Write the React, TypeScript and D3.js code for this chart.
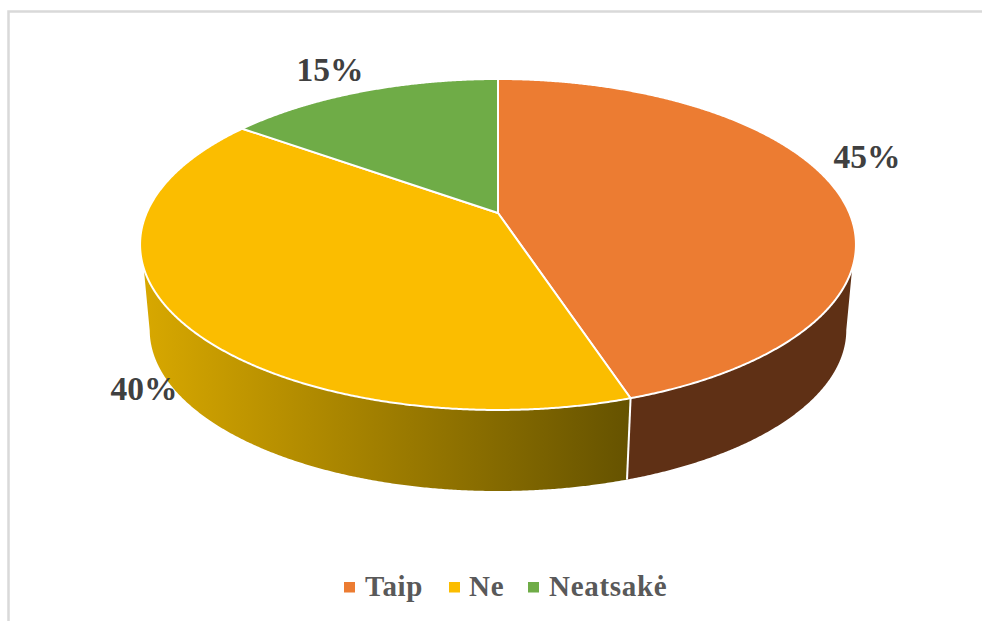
import React from "react";
import * as d3 from "d3";

const categories = ["Taip", "Ne", "Neatsakė"];
const shares = [45, 40, 15];
const labels = ["45%", "40%", "15%"];
const colors = ["#EC7C32", "#FBBD00", "#6FAC47"];

const W = 982;
const H = 621;
// Perspective of the pie disc: apex (498,213), rim top 79, rim bottom 410
const CX = 498;
const APEX_Y = 213;
const PERSP = -0.1903;
const A = 118.96;
const S = 351.4;
// Lower rim of the extruded wall
const RIM_MID_Y = 244.5;
const LOWER_MID_Y = 330;
const LOWER_SCALE = 0.973;
const WALL_START_Y = 268;

type P = [number, number];
const top = (angle: number): P => {
  const u = Math.sin(angle);
  const v = -Math.cos(angle);
  const w = 1 + PERSP * v;
  return [CX + (S * u) / w, (A * v + APEX_Y) / w];
};
const low = (p: P): P => [
  CX + (p[0] - CX) * LOWER_SCALE,
  LOWER_MID_Y + (p[1] - RIM_MID_Y) * LOWER_SCALE,
];

const pieGen = d3.pie<number>().sort(null).value((d) => d);
const arcs = pieGen(shares);
const line = d3.line<P>();

const sample = (a0: number, a1: number, step = 0.005): number[] => {
  const n = Math.ceil((a1 - a0) / step);
  return d3.range(n + 1).map((i) => a0 + ((a1 - a0) * i) / n);
};

const slicePath = (a0: number, a1: number) =>
  line([[CX, APEX_Y] as P, ...sample(a0, a1).map(top)]) + "Z";

const wallPath = (a0: number, a1: number) => {
  const rim = sample(a0, a1).map(top).filter((p) => p[1] >= WALL_START_Y);
  const bottom = sample(a0, a1)
    .map(top)
    .map(low)
    .filter((p) => p[1] >= LOWER_MID_Y);
  return line([...rim, ...bottom.reverse()]) + "Z";
};

const seamAngle = arcs[0].endAngle;
const seamTop = top(seamAngle);
const seamLow = low(seamTop);

const labelPos: P[] = [
  [867, 168],
  [144, 400],
  [330, 81],
];
const legendItems = [
  { sx: 344, tx: 365 },
  { sx: 449, tx: 469 },
  { sx: 528, tx: 549 },
];
const serif = "'Liberation Serif', 'Times New Roman', serif";

export default function App() {
  return (
    <svg
      width={W}
      height={H}
      viewBox={`0 0 ${W} ${H}`}
      style={{ position: "absolute", left: 0, top: 0, background: "#fff" }}
    >
      <defs>
        <linearGradient id="wallNe" gradientUnits="userSpaceOnUse" x1={142} x2={627} y1={0} y2={0}>
          <stop offset="0" stopColor="#D8A800" />
          <stop offset="1" stopColor="#665300" />
        </linearGradient>
      </defs>
      <path d="M8.5 621V11.5H982" fill="none" stroke="#D9D9D9" strokeWidth={2.5} />

      <path d={wallPath(arcs[0].startAngle, arcs[0].endAngle)} fill="#5F3015" />
      <path d={wallPath(arcs[1].startAngle, arcs[1].endAngle)} fill="url(#wallNe)" />
      <path d={line([seamTop, seamLow])!} stroke="#fff" strokeWidth={2} fill="none" />

      {arcs.map((a, i) => (
        <path
          key={categories[i]}
          d={slicePath(a.startAngle, a.endAngle)}
          fill={colors[i]}
          stroke="#fff"
          strokeWidth={2}
          strokeLinejoin="round"
        />
      ))}

      {labels.map((t, i) => (
        <text
          key={t}
          x={labelPos[i][0]}
          y={labelPos[i][1]}
          textAnchor="middle"
          fontFamily={serif}
          fontWeight="bold"
          fontSize={33.5}
          fill="#404040"
        >
          {t}
        </text>
      ))}

      {categories.map((c, i) => (
        <g key={c}>
          <rect x={legendItems[i].sx} y={582} width={11} height={10.5} fill={colors[i]} />
          <text
            x={legendItems[i].tx}
            y={596}
            fontFamily={serif}
            fontWeight="bold"
            fontSize={29}
            letterSpacing={0.7}
            fill="#595959"
          >
            {c}
          </text>
        </g>
      ))}
    </svg>
  );
}
